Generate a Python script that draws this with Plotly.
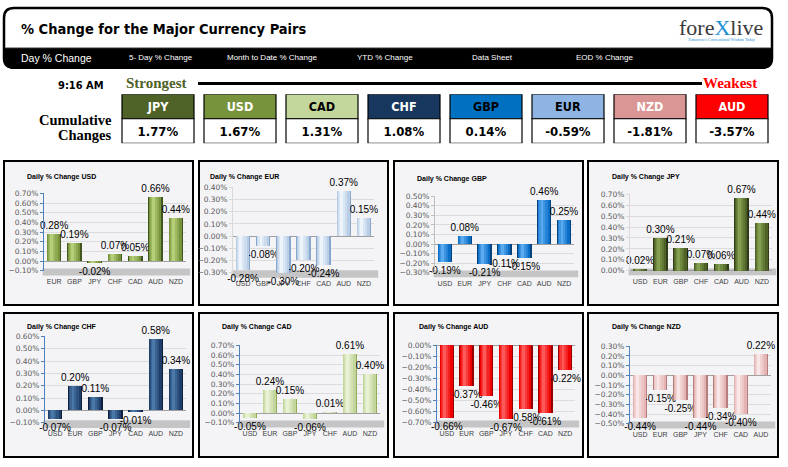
import plotly.graph_objects as go

W, H = 788, 467

# ---------------- data ----------------
box_currencies = ["JPY", "USD", "CAD", "CHF", "GBP", "EUR", "NZD", "AUD"]
box_changes = [1.77, 1.67, 1.31, 1.08, 0.14, -0.59, -1.81, -3.57]

usd_cats = ["EUR", "GBP", "JPY", "CHF", "CAD", "AUD", "NZD"]
usd_vals = [0.28, 0.19, -0.02, 0.07, 0.05, 0.66, 0.44]
eur_cats = ["USD", "GBP", "JPY", "CHF", "CAD", "AUD", "NZD"]
eur_vals = [-0.28, -0.08, -0.30, -0.20, -0.24, 0.37, 0.15]
gbp_cats = ["USD", "EUR", "JPY", "CHF", "CAD", "AUD", "NZD"]
gbp_vals = [-0.19, 0.08, -0.21, -0.11, -0.15, 0.46, 0.25]
jpy_cats = ["USD", "EUR", "GBP", "CHF", "CAD", "AUD", "NZD"]
jpy_vals = [0.02, 0.30, 0.21, 0.07, 0.06, 0.67, 0.44]
chf_cats = ["USD", "EUR", "GBP", "JPY", "CAD", "AUD", "NZD"]
chf_vals = [-0.07, 0.20, 0.11, -0.07, -0.01, 0.58, 0.34]
cad_cats = ["USD", "EUR", "GBP", "JPY", "CHF", "AUD", "NZD"]
cad_vals = [-0.05, 0.24, 0.15, -0.06, 0.01, 0.61, 0.40]
aud_cats = ["USD", "EUR", "GBP", "JPY", "CHF", "CAD", "NZD"]
aud_vals = [-0.66, -0.37, -0.46, -0.67, -0.58, -0.61, -0.22]
nzd_cats = ["USD", "EUR", "GBP", "JPY", "CHF", "CAD", "AUD"]
nzd_vals = [-0.44, -0.15, -0.25, -0.44, -0.34, -0.40, 0.22]

band_labels = ["Day % Change", "5- Day % Change", "Month to Date % Change",
               "YTD % Change", "Data Sheet", "EOD % Change"]

# ---------------- helpers ----------------
def px(x):
    return x / W


def py(y):
    return 1 - y / H


def mix(c1, c2, t):
    a = [int(c1[i:i + 2], 16) for i in (1, 3, 5)]
    b = [int(c2[i:i + 2], 16) for i in (1, 3, 5)]
    return "#" + "".join(f"{round(a[k] + (b[k] - a[k]) * t):02x}" for k in range(3))


NARROW = "Liberation Sans Narrow, DejaVu Sans Condensed, Arial Narrow, Liberation Sans, sans-serif"
SERIF = "Liberation Serif, DejaVu Serif, serif"
SANS = "Liberation Sans, Arial, sans-serif"

charts = [
    ("USD", usd_cats, usd_vals, (-0.1, 0.7), (44, 186, 193, 272), (4, 193, 160, 307), (25, 176),
     ("#77933c", "#b4cf78", "#44561f"), "#4f81bd"),
    ("EUR", eur_cats, eur_vals, (-0.3, 0.4), (233, 374, 187, 274), (199, 388, 160, 307), (208, 176),
     ("#b9cde5", "#eef4fb", "#89a6cc"), "#d9d9d9"),
    ("GBP", gbp_cats, gbp_vals, (-0.3, 0.5), (435, 574, 196, 274), (394, 583, 160, 307), (415, 178),
     ("#0b6ec6", "#5aaaf0", "#08427d"), "#bfbfbf"),
    ("JPY", jpy_cats, jpy_vals, (0.0, 0.7), (630, 772, 194, 272), (588, 778, 160, 307), (610, 176),
     ("#4f6228", "#849f50", "#2f3c17"), "#d9d9d9"),
    ("CHF", chf_cats, chf_vals, (-0.1, 0.6), (45, 186, 339, 427), (4, 193, 315, 462), (25, 329),
     ("#1f3f6a", "#4a78a8", "#0e213c"), "#4f81bd"),
    ("CAD", cad_cats, cad_vals, (-0.1, 0.7), (240, 380, 348, 427), (199, 388, 315, 462), (220, 329),
     ("#c3d69b", "#eaf2d6", "#93aa5a"), "#4f81bd"),
    ("AUD", aud_cats, aud_vals, (-0.7, 0.0), (437, 575, 348, 427), (394, 583, 315, 462), (417, 329),
     ("#ee0000", "#ff5a5a", "#960000"), "#4f81bd"),
    ("NZD", nzd_cats, nzd_vals, (-0.5, 0.3), (630, 771, 349, 428), (588, 778, 315, 462), (610, 329),
     ("#e3b4b3", "#f9e6e6", "#b57d7c"), "#4f81bd"),
]

fig = go.Figure()
shapes = []
annotations = []
layout_axes = {}

# ---------------- header ----------------
r = 10
x0h, x1h, y0h, y1h = 4, 772, 4, 65
outer = (f"M {px(x0h + r)},{py(y0h)} L {px(x1h - r)},{py(y0h)} "
         f"Q {px(x1h)},{py(y0h)} {px(x1h)},{py(y0h + r)} L {px(x1h)},{py(y1h - r)} "
         f"Q {px(x1h)},{py(y1h)} {px(x1h - r)},{py(y1h)} L {px(x0h + r)},{py(y1h)} "
         f"Q {px(x0h)},{py(y1h)} {px(x0h)},{py(y1h - r)} L {px(x0h)},{py(y0h + r)} "
         f"Q {px(x0h)},{py(y0h)} {px(x0h + r)},{py(y0h)} Z")
band = (f"M {px(x0h)},{py(45)} L {px(x1h)},{py(45)} L {px(x1h)},{py(y1h - r)} "
        f"Q {px(x1h)},{py(y1h)} {px(x1h - r)},{py(y1h)} L {px(x0h + r)},{py(y1h)} "
        f"Q {px(x0h)},{py(y1h)} {px(x0h)},{py(y1h - r)} Z")
shapes.append(dict(type="path", path=outer, xref="paper", yref="paper",
                   fillcolor="white", line=dict(color="black", width=2.5), layer="below"))
shapes.append(dict(type="path", path=band, xref="paper", yref="paper",
                   fillcolor="black", line=dict(color="black", width=1), layer="below"))

annotations.append(dict(x=px(19), y=py(25), xref="paper", yref="paper", xanchor="left", yanchor="middle",
                        text="% Change for the Major Currency Pairs", showarrow=False,
                        font=dict(family=NARROW, size=14.5, color="black", weight="bold")))
band_x = [19, 127, 225, 355, 470, 574]
for i, (lab, bx) in enumerate(zip(band_labels, band_x)):
    annotations.append(dict(x=px(bx), y=py(55), xref="paper", yref="paper", xanchor="left", yanchor="middle",
                            text=lab, showarrow=False,
                            font=dict(family=SANS, size=10.5 if i == 0 else 8, color="white")))
annotations.append(dict(x=px(721), y=py(24), xref="paper", yref="paper", xanchor="center", yanchor="middle",
                        text="fore<span style='color:#1e90d6'>X</span>live", showarrow=False,
                        font=dict(family=SERIF, size=22, color="#3a3a3a")))
annotations.append(dict(x=px(721), y=py(36.5), xref="paper", yref="paper", xanchor="center", yanchor="middle",
                        text="Tomorrow's Conventional Wisdom Today", showarrow=False,
                        font=dict(family=SERIF, size=4, color="#1e90d6")))

# ---------------- strongest / weakest row ----------------
annotations.append(dict(x=px(81), y=py(83), xref="paper", yref="paper", xanchor="center", yanchor="middle",
                        text="9:16 AM", showarrow=False,
                        font=dict(family=NARROW, size=11, color="black", weight="bold")))
annotations.append(dict(x=px(124), y=py(81), xref="paper", yref="paper", xanchor="left", yanchor="middle",
                        text="Strongest", showarrow=False,
                        font=dict(family=SERIF, size=15, color="#4f6228", weight="bold")))
annotations.append(dict(x=px(759), y=py(81), xref="paper", yref="paper", xanchor="right", yanchor="middle",
                        text="Weakest", showarrow=False,
                        font=dict(family=SERIF, size=15, color="#ff0000", weight="bold")))
shapes.append(dict(type="line", x0=px(198), x1=px(702), y0=py(81), y1=py(81), xref="paper", yref="paper",
                   line=dict(color="black", width=3)))
annotations.append(dict(x=px(114), y=py(118), xref="paper", yref="paper", xanchor="right", yanchor="middle",
                        text="Cumulative", showarrow=False,
                        font=dict(family=SERIF, size=14.5, color="black", weight="bold")))
annotations.append(dict(x=px(114), y=py(134), xref="paper", yref="paper", xanchor="right", yanchor="middle",
                        text="Changes", showarrow=False,
                        font=dict(family=SERIF, size=14.5, color="black", weight="bold")))

box_fill = {"JPY": "#4f6228", "USD": "#77933c", "CAD": "#c3d69b", "CHF": "#17375e",
            "GBP": "#0070c0", "EUR": "#8db4e2", "NZD": "#da9694", "AUD": "#ff0000"}
box_text = {"JPY": "white", "USD": "white", "CAD": "black", "CHF": "white",
            "GBP": "black", "EUR": "black", "NZD": "white", "AUD": "white"}

fig.add_trace(go.Bar(
    x=box_currencies, y=[1] * len(box_currencies), base=[1] * len(box_currencies),
    width=72 / 82, marker=dict(color=[box_fill[c] for c in box_currencies], line=dict(color="black", width=1.2)),
    text=box_currencies, textposition="inside", insidetextanchor="middle", constraintext="none",
    textfont=dict(family=NARROW, size=12.5, color=[box_text[c] for c in box_currencies], weight="bold"),
    xaxis="x9", yaxis="y9", hoverinfo="skip", showlegend=False))
fig.add_trace(go.Bar(
    x=box_currencies, y=[1] * len(box_currencies), base=[0] * len(box_currencies),
    width=72 / 82, marker=dict(color="white", line=dict(color="black", width=1.2)),
    text=[f"{v:.2f}%" for v in box_changes], textposition="inside", insidetextanchor="middle",
    constraintext="none",
    textfont=dict(family=NARROW, size=13, color="black", weight="bold"),
    xaxis="x9", yaxis="y9", hoverinfo="skip", showlegend=False))
layout_axes["xaxis9"] = dict(domain=[px(117), px(773)], range=[-0.5, 7.5], visible=False,
                             anchor="y9", type="category", fixedrange=True)
layout_axes["yaxis9"] = dict(domain=[py(142), py(92)], range=[0, 2], visible=False, anchor="x9",
                             fixedrange=True)

# ---------------- small charts ----------------
# cylinder shading layers: (width, offset, blend toward highlight; negative = dark edge)
layers = [(0.72, -0.36, -1.0), (0.62, -0.33, 0.0), (0.46, -0.29, 0.35), (0.30, -0.24, 0.65), (0.14, -0.18, 1.0)]

for i, (name, cats, vals, yr, pbox, panel, tpos, cols, axcol) in enumerate(charts, start=1):
    sfx = "" if i == 1 else str(i)
    xa, ya = f"x{sfx}", f"y{sfx}"
    base_c, hi_c, sh_c = cols
    shapes.append(dict(type="rect", xref="paper", yref="paper",
                       x0=px(panel[0]), x1=px(panel[1]), y0=py(panel[3]), y1=py(panel[2]),
                       fillcolor="#f4f4f7", line=dict(color="black", width=2), layer="below"))
    shapes.append(dict(type="rect", xref=f"{xa} domain", yref=f"{ya} domain",
                       x0=-0.01, x1=1.03, y0=-0.06, y1=0.03,
                       fillcolor="#b5b5b5", line=dict(width=0), opacity=0.75, layer="below"))
    for k, (wd, off, t) in enumerate(layers):
        col = sh_c if t < 0 else mix(base_c, hi_c, t)
        kw = {}
        if k == 0:
            kw = dict(text=[f"{v:.2f}%" for v in vals], textposition="outside", cliponaxis=False,
                      constraintext="none", textfont=dict(family=SANS, size=10, color="black"))
        fig.add_trace(go.Bar(x=cats, y=vals, width=wd, offset=off,
                             marker=dict(color=col, line=dict(width=0)),
                             xaxis=xa, yaxis=ya, hoverinfo="skip", showlegend=False, **kw))

    layout_axes[f"xaxis{sfx}"] = dict(domain=[px(pbox[0]), px(pbox[1])], anchor=ya, type="category",
                                      showgrid=False, showline=False, zeroline=False, ticks="",
                                      tickfont=dict(family=SANS, size=7, color="#404040"),
                                      ticklabelstandoff=5, fixedrange=True)
    layout_axes[f"yaxis{sfx}"] = dict(domain=[py(pbox[3]), py(pbox[2])], anchor=xa,
                                      range=[yr[0] - 0.0005, yr[1] + 0.0005], dtick=0.1, tick0=0,
                                      tickformat=".2f", ticksuffix="%",
                                      showgrid=True, gridcolor="#dcdcdc", gridwidth=1,
                                      zeroline=True, zerolinecolor="#a0a0a0", zerolinewidth=1,
                                      showline=True, linecolor=axcol, linewidth=1,
                                      ticks="outside", ticklen=3, tickcolor=axcol,
                                      tickfont=dict(family="DejaVu Sans, sans-serif", size=7.5, color="#595959"),
                                      fixedrange=True)
    annotations.append(dict(x=px(tpos[0]), y=py(tpos[1]), xref="paper", yref="paper",
                            xanchor="left", yanchor="middle", text=f"Daily % Change {name}",
                            showarrow=False,
                            font=dict(family=SANS, size=7, color="black", weight="bold")))

fig.update_layout(
    width=W, height=H, margin=dict(l=0, r=0, t=0, b=0),
    paper_bgcolor="white", plot_bgcolor="rgba(0,0,0,0)",
    barmode="overlay", bargap=0, showlegend=False,
    shapes=shapes, annotations=annotations, **layout_axes)

fig.write_html("out.html",
               config={"displayModeBar": False, "staticPlot": True},
               post_script="document.body.style.margin='0px';document.body.style.overflow='hidden';")
